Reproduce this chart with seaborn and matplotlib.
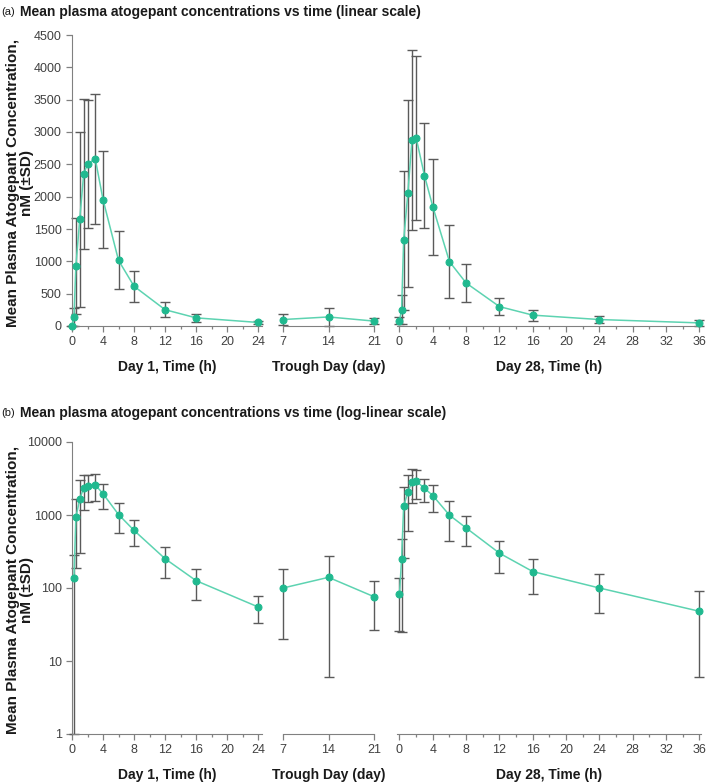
import numpy as np
import pandas as pd
import matplotlib
matplotlib.use('Agg')
import matplotlib.pyplot as plt
from matplotlib.ticker import MultipleLocator, FixedLocator, NullLocator, FuncFormatter
import seaborn as sns

# Day 1 profile (h)
day1_time = [0, 0.25, 0.5, 1, 1.5, 2, 3, 4, 6, 8, 12, 16, 24]
day1_mean = [0, 135, 925, 1650, 2345, 2505, 2585, 1955, 1015, 615, 252, 126, 55]
day1_sd = [0, 145, 740, 1350, 1160, 985, 1010, 745, 450, 237, 117, 58, 22]

# Trough samples (day)
trough_day = [7, 14, 21]
trough_mean = [100, 140, 76]
trough_sd = [80, 134, 49]

# Day 28 profile (h)
day28_time = [0, 0.25, 0.5, 1, 1.5, 2, 3, 4, 6, 8, 12, 16, 24, 36]
day28_mean = [82, 250, 1325, 2050, 2875, 2910, 2325, 1845, 995, 665, 300, 168, 100, 48]
day28_sd = [56, 225, 1070, 1440, 1395, 1270, 815, 745, 560, 292, 137, 85, 55, 42]

xlabels = ['Day 1, Time (h)', 'Trough Day (day)', 'Day 28, Time (h)']
titles = ['Mean plasma atogepant concentrations vs time (linear scale)',
          'Mean plasma atogepant concentrations vs time (log-linear scale)']
ylabel = 'Mean Plasma Atogepant Concentration,\nnM (\u00b1SD)'

sns.set_style('ticks')
plt.rcParams['font.family'] = ['Liberation Sans', 'DejaVu Sans']

line_col = '#5dd3b1'
dot_col = '#20b98f'
err_col = '#5a5a5a'
spine_col = '#808080'
tick_col = '#404040'

fig = plt.figure(figsize=(7.09, 7.83), dpi=100)
W, H = 709, 783


def box(x0, x1, ytop, ybot):
    return [x0 / W, 1 - ybot / H, (x1 - x0) / W, (ybot - ytop) / H]


panels = [
    (day1_time, day1_mean, day1_sd),
    (trough_day, trough_mean, trough_sd),
    (day28_time, day28_mean, day28_sd),
]
xspans = [(72, 262), (283, 374), (397, 701)]
xlims = [(0, 24.5), (7, 21), (-0.3, 36.2)]
xmajor = [4, 7, 4]
xminor = [2, None, 2]
rows = [(35, 326, 'linear'), (442, 734, 'log')]

for r, (ytop, ybot, scale) in enumerate(rows):
    for p, (t, m, s) in enumerate(panels):
        ax = fig.add_axes(box(xspans[p][0], xspans[p][1], ytop, ybot))
        df = pd.DataFrame({'t': t, 'mean': m, 'sd': s})
        ymin = 1 if scale == 'log' else 0
        if scale == 'log':
            df = df[df['mean'] > 0]
        # lower bars stop at the axis floor (negative values in log space run to the bottom)
        lower = np.minimum(df['sd'], df['mean'] - ymin)
        ax.errorbar(df['t'], df['mean'], yerr=[lower, df['sd']], fmt='none', ecolor=err_col,
                    elinewidth=1.0, capsize=3.5, capthick=1.0, zorder=2, clip_on=False)
        sns.lineplot(data=df, x='t', y='mean', ax=ax, color=line_col, lw=1.1,
                     marker='o', markersize=5, markerfacecolor=dot_col,
                     markeredgecolor=dot_col, zorder=3, clip_on=False)
        if scale == 'log':
            ax.set_yscale('log')
            ax.set_ylim(1, 10000)
            ax.yaxis.set_major_locator(FixedLocator([1, 10, 100, 1000, 10000]))
            ax.yaxis.set_minor_locator(NullLocator())
            ax.yaxis.set_major_formatter(FuncFormatter(lambda v, _: f'{v:g}'))
        else:
            ax.set_ylim(0, 4500)
            ax.yaxis.set_major_locator(MultipleLocator(500))
        ax.set_xlim(*xlims[p])
        ax.xaxis.set_major_locator(MultipleLocator(xmajor[p]))
        if xminor[p]:
            ax.xaxis.set_minor_locator(MultipleLocator(xminor[p]))
        ax.tick_params(axis='both', which='major', labelsize=9, colors=spine_col,
                       labelcolor=tick_col, length=4, width=0.9)
        ax.tick_params(axis='x', which='minor', length=2.5, width=0.9, colors=spine_col)
        ax.set_xlabel(xlabels[p], fontsize=10, fontweight='bold', color='#1a1a1a', labelpad=8)
        ax.set_ylabel('')
        for side in ['top', 'right']:
            ax.spines[side].set_visible(False)
        ax.spines['bottom'].set_color(spine_col)
        ax.spines['left'].set_color(spine_col)
        if p > 0:
            ax.spines['left'].set_visible(False)
            ax.tick_params(axis='y', which='both', left=False, labelleft=False)
        ax.patch.set_alpha(0)

    yc = 1 - ((ytop + ybot) / 2 + 2) / H
    fig.text(20 / W, yc, ylabel, rotation=90, ha='center', va='center',
             fontsize=11, fontweight='bold', color='#1a1a1a', linespacing=1.0)

for r, (yy, tag) in enumerate([(12, '(a)'), (413, '(b)')]):
    fig.text(1 / W, 1 - yy / H, tag, fontsize=8, va='center', ha='left', color='#1a1a1a')
    fig.text(20 / W, 1 - yy / H, titles[r], fontsize=10, fontweight='bold',
             va='center', ha='left', color='#1a1a1a')

fig.savefig('out.png', dpi=100)
